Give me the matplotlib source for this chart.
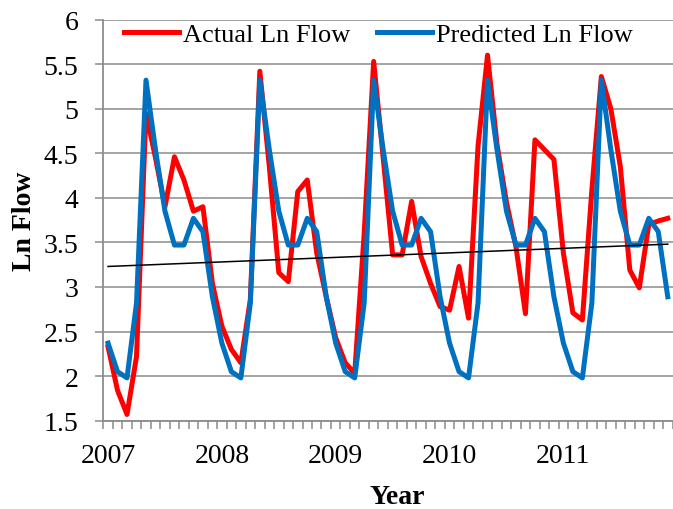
import matplotlib
matplotlib.use("Agg")
import matplotlib.pyplot as plt
import numpy as np

# monthly values, Jan 2007 - Dec 2011
actual = [2.33, 1.84, 1.57, 2.22, 4.95, 4.45, 3.90, 4.46, 4.20, 3.85, 3.90, 3.04,
          2.56, 2.30, 2.15, 2.86, 5.42, 4.35, 3.16, 3.06, 4.07, 4.20, 3.38, 2.89,
          2.43, 2.15, 2.03, 3.60, 5.53, 4.45, 3.36, 3.36, 3.96, 3.34, 3.04, 2.78,
          2.74, 3.23, 2.65, 4.58, 5.60, 4.60, 3.95, 3.45, 2.70, 4.65, 4.54, 4.43,
          3.38, 2.71, 2.63, 4.09, 5.36, 5.00, 4.35, 3.19, 2.99, 3.70, 3.74, 3.77]
predicted = [2.37, 2.05, 1.98, 2.82, 5.32, 4.54, 3.85, 3.47, 3.47, 3.77, 3.62, 2.89,
             2.37, 2.05, 1.98, 2.82, 5.32, 4.54, 3.85, 3.47, 3.47, 3.77, 3.62, 2.89,
             2.37, 2.05, 1.98, 2.82, 5.32, 4.54, 3.85, 3.47, 3.47, 3.77, 3.62, 2.89,
             2.37, 2.05, 1.98, 2.82, 5.32, 4.54, 3.85, 3.47, 3.47, 3.77, 3.62, 2.89,
             2.37, 2.05, 1.98, 2.82, 5.32, 4.54, 3.85, 3.47, 3.47, 3.77, 3.62, 2.89]
trend_ends = [3.23, 3.48]   # linear trendline, first and last month
years = ["2007", "2008", "2009", "2010", "2011"]

plt.rcParams['font.family'] = ['Liberation Serif', 'DejaVu Serif']

fig = plt.figure(figsize=(6.73, 5.10), dpi=100)
ax = fig.add_axes([103.3 / 673, 1 - 421.7 / 510, (672.5 - 103.3) / 673, (421.7 - 20.5) / 510])

x = np.arange(len(actual))
ax.plot(x, actual, color="#FF0000", lw=3.6, label="Actual Ln Flow", zorder=3)
ax.plot(x, predicted, color="#0070C0", lw=3.6, label="Predicted Ln Flow", zorder=4)

# trendline
ax.plot([x[0], x[-1]], trend_ends, color="black", lw=1.1, zorder=5)

ax.set_xlim(-0.5, len(actual) - 0.5)
ax.set_ylim(1.5, 6)
ax.set_yticks(np.arange(1.5, 6.01, 0.5))
ax.set_yticklabels(["1.5", "2", "2.5", "3", "3.5", "4", "4.5", "5", "5.5", "6"])
ax.set_xticks(np.arange(0, 60, 12))
ax.set_xticklabels(years)
ax.set_xticks(np.arange(-0.5, 60, 1), minor=True)

ax.grid(axis="y", color="#8c8c8c", lw=1.1, zorder=0)
for s in ["top", "right"]:
    ax.spines[s].set_visible(False)
for s in ["left", "bottom"]:
    ax.spines[s].set_color("#8c8c8c")
    ax.spines[s].set_linewidth(1.3)

ax.tick_params(axis="y", direction="out", length=6, width=1.1, color="#8c8c8c",
               labelsize=20, pad=12)
ax.tick_params(axis="x", which="major", length=0, labelsize=20, pad=16)
ax.tick_params(axis="x", which="minor", direction="out", length=5.5, width=1.1,
               color="#8c8c8c")

ax.set_ylabel("Ln Flow", fontsize=20, fontweight="bold")
ax.yaxis.set_label_coords(-0.116, 0.5)
ax.set_xlabel("Year", fontsize=20, fontweight="bold")
ax.xaxis.set_label_coords(0.516, -0.157)

ax.legend(loc="center left", bbox_to_anchor=((124 - 103.3) / 569.2, 0.962), ncol=2,
          frameon=False, fontsize=19, handlelength=2.1, handletextpad=0.15,
          columnspacing=1.0, borderpad=0, borderaxespad=0)

fig.savefig("out.png", dpi=100)
